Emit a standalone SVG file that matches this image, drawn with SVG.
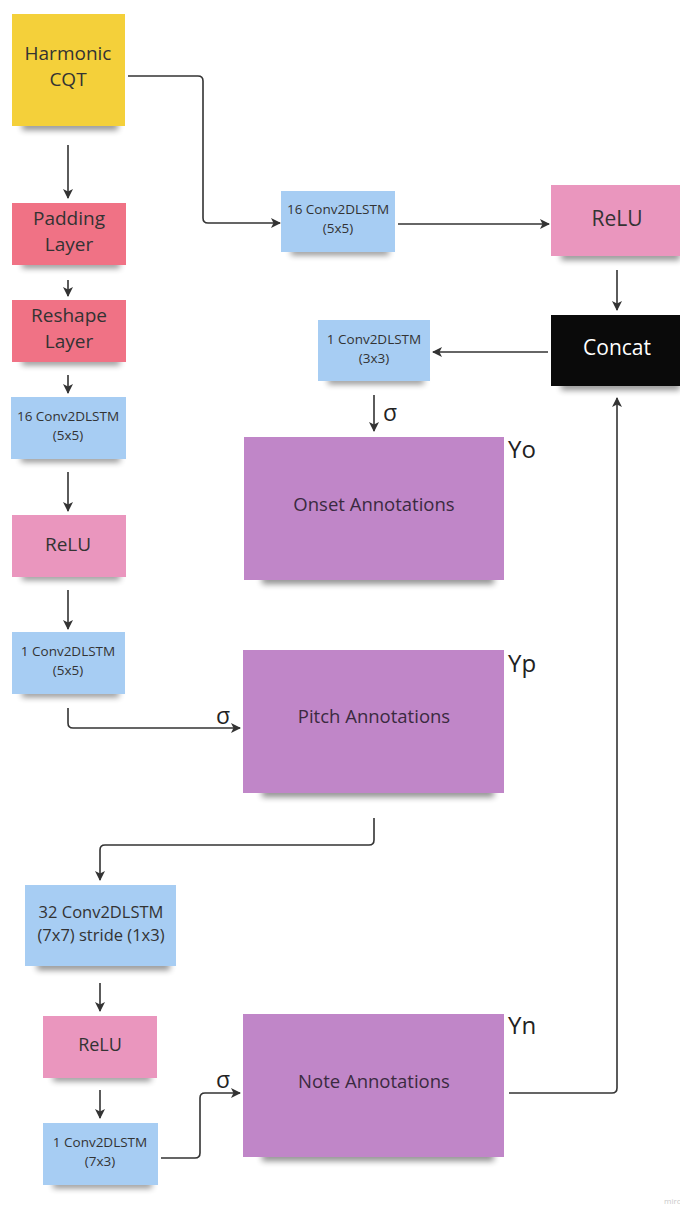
<svg xmlns="http://www.w3.org/2000/svg" width="680" height="1205" viewBox="0 0 680 1205">
  <defs>
    <filter id="soft" x="-20%" y="-100%" width="140%" height="300%">
      <feGaussianBlur stdDeviation="3"/>
    </filter>
    <marker id="arr" viewBox="0 0 10 10" refX="9" refY="5" markerWidth="10" markerHeight="10" markerUnits="userSpaceOnUse" orient="auto">
      <path d="M0,0 L10,5 L0,10 L2.5,5 Z" fill="#333"/>
    </marker>
    <style>
      .shadow { fill: #000; opacity: 0.45; filter: url(#soft); }
      .yellow { fill: #F4D03A; }
      .red { fill: #F07285; }
      .pink { fill: #EA96BE; }
      .blue { fill: #A7CDF3; }
      .purple { fill: #C086C8; }
      .black { fill: #0a0a0a; }
      text { font-family: "Open Sans", "Noto Sans", sans-serif; fill: #333; text-anchor: middle; }
      .big { font-size: 19px; }
      .small { font-size: 13.5px; }
      .mid { font-size: 16.5px; }
      .ann { font-size: 18.5px; fill: #3a2a40; }
      .tag { font-size: 24px; text-anchor: start; fill: #222; }
      .sig { font-size: 23px; text-anchor: start; fill: #222; }
      .white { fill: #fff; font-size: 21px; }
      .conn path { fill: none; stroke: #333; stroke-width: 1.6; marker-end: url(#arr); }
    </style>
  </defs>

  <rect width="680" height="1205" fill="#fff"/>

  <!-- connectors -->
  <g class="conn">
    <path d="M128,76 H198 Q203,76 203,81 V218 Q203,223 208,223 H280"/>
    <path d="M68,145 V198"/>
    <path d="M68,280 V296"/>
    <path d="M68,375 V393"/>
    <path d="M68,472 V511"/>
    <path d="M68,590 V629"/>
    <path d="M68,708 V723 Q68,728 73,728 H240"/>
    <path d="M398,224 H549"/>
    <path d="M617,270 V310"/>
    <path d="M548,352 H433"/>
    <path d="M374,395 V431"/>
    <path d="M374,818 V840 Q374,845 369,845 H105 Q100,845 100,850 V880"/>
    <path d="M100,983 V1011"/>
    <path d="M100,1090 V1118"/>
    <path d="M161,1158 H195 Q200,1158 200,1153 V1098 Q200,1093 205,1093 H240"/>
    <path d="M509,1093 H612 Q617,1093 617,1088 V398"/>
  </g>

  <!-- edge labels -->
  <text class="sig" x="383" y="421">σ</text>
  <text class="sig" x="216" y="724">σ</text>
  <text class="sig" x="216" y="1088">σ</text>

  <g id="harmonic-cqt">
    <rect class="shadow" x="22" y="122" width="96" height="8"/>
    <rect class="yellow" x="12" y="14" width="113" height="112"/>
    <text class="big" x="68" y="60">Harmonic</text>
    <text class="big" x="68" y="86">CQT</text>
  </g>

  <g id="padding-layer">
    <rect class="shadow" x="22" y="261" width="98" height="7"/>
    <rect class="red" x="12" y="203" width="114" height="62"/>
    <text class="big" x="69" y="225">Padding</text>
    <text class="big" x="69" y="251">Layer</text>
  </g>

  <g id="reshape-layer">
    <rect class="shadow" x="22" y="358" width="98" height="7"/>
    <rect class="red" x="12" y="300" width="114" height="62"/>
    <text class="big" x="69" y="322">Reshape</text>
    <text class="big" x="69" y="348">Layer</text>
  </g>

  <g id="conv-16-left">
    <rect class="shadow" x="21" y="455" width="99" height="7"/>
    <rect class="blue" x="11" y="397" width="115" height="62"/>
    <text class="small" x="68" y="421">16 Conv2DLSTM</text>
    <text class="small" x="68" y="440">(5x5)</text>
  </g>

  <g id="relu-left">
    <rect class="shadow" x="22" y="573" width="98" height="7"/>
    <rect class="pink" x="12" y="515" width="114" height="62"/>
    <text class="big" x="68" y="551">ReLU</text>
  </g>

  <g id="conv-1-5x5">
    <rect class="shadow" x="22" y="690" width="97" height="7"/>
    <rect class="blue" x="12" y="632" width="113" height="62"/>
    <text class="small" x="68" y="656">1 Conv2DLSTM</text>
    <text class="small" x="68" y="675">(5x5)</text>
  </g>

  <g id="conv-16-top">
    <rect class="shadow" x="291" y="248" width="98" height="7"/>
    <rect class="blue" x="281" y="191" width="114" height="61"/>
    <text class="small" x="338" y="214">16 Conv2DLSTM</text>
    <text class="small" x="338" y="233">(5x5)</text>
  </g>

  <g id="relu-right">
    <rect class="shadow" x="561" y="252" width="119" height="8"/>
    <rect class="pink" x="551" y="185" width="129" height="71"/>
    <text class="big" x="617" y="226" style="font-size:21px">ReLU</text>
  </g>

  <g id="concat">
    <rect class="shadow" x="561" y="382" width="119" height="8"/>
    <rect class="black" x="551" y="315" width="129" height="71"/>
    <text class="white" x="617" y="355">Concat</text>
  </g>

  <g id="conv-1-3x3">
    <rect class="shadow" x="328" y="377" width="96" height="7"/>
    <rect class="blue" x="318" y="320" width="112" height="61"/>
    <text class="small" x="374" y="344">1 Conv2DLSTM</text>
    <text class="small" x="374" y="363">(3x3)</text>
  </g>

  <g id="onset-annotations">
    <rect class="shadow" x="262" y="575" width="232" height="9"/>
    <rect class="purple" x="244" y="437" width="260" height="143"/>
    <text class="ann" x="374" y="511">Onset Annotations</text>
    <text class="tag" x="508" y="458">Yo</text>
  </g>

  <g id="pitch-annotations">
    <rect class="shadow" x="262" y="788" width="232" height="9"/>
    <rect class="purple" x="243" y="650" width="261" height="143"/>
    <text class="ann" x="374" y="723">Pitch Annotations</text>
    <text class="tag" x="508" y="672">Yp</text>
  </g>

  <g id="conv-32">
    <rect class="shadow" x="37" y="962" width="133" height="8"/>
    <rect class="blue" x="25" y="885" width="151" height="81"/>
    <text class="mid" x="101" y="918">32 Conv2DLSTM</text>
    <text class="mid" x="101" y="941">(7x7) stride (1x3)</text>
  </g>

  <g id="relu-bottom">
    <rect class="shadow" x="53" y="1074" width="98" height="7"/>
    <rect class="pink" x="43" y="1016" width="114" height="62"/>
    <text class="big" x="100" y="1051" style="font-size:18px">ReLU</text>
  </g>

  <g id="conv-1-7x3">
    <rect class="shadow" x="53" y="1181" width="99" height="7"/>
    <rect class="blue" x="43" y="1123" width="115" height="62"/>
    <text class="small" x="100" y="1147">1 Conv2DLSTM</text>
    <text class="small" x="100" y="1166">(7x3)</text>
  </g>

  <g id="note-annotations">
    <rect class="shadow" x="262" y="1152" width="232" height="9"/>
    <rect class="purple" x="243" y="1014" width="261" height="143"/>
    <text class="ann" x="374" y="1088">Note Annotations</text>
    <text class="tag" x="508" y="1034">Yn</text>
  </g>

  <text x="664" y="1204" style="font-size:8px; fill:#c8c8c8; text-anchor:start">miro</text>
</svg>
